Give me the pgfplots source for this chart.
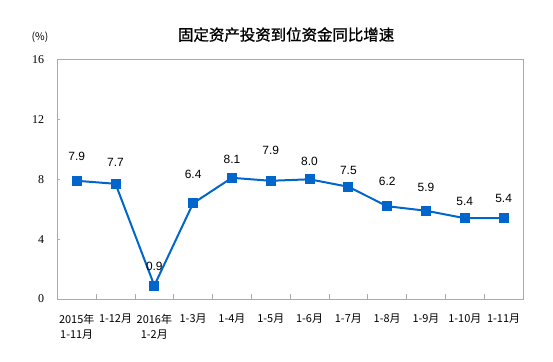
\documentclass[border=0pt]{standalone}
\usepackage{pgfplots}
\pgfplotsset{compat=1.18}
\usepackage{pgfplotstable}
\usepackage{fontspec}
\setmainfont{Liberation Sans}
\newfontfamily\cjk{Noto Sans CJK SC}
\newfontfamily\cjkb[FakeBold=1.2]{Noto Sans CJK SC}
\newfontfamily\serif{Liberation Serif}
\definecolor{lineblue}{RGB}{0,102,204}
\definecolor{framegray}{RGB}{170,170,170}

\pgfplotstableread{
x y off
0 7.9 24.8
1 7.7 21
2 0.9 19.5
3 6.4 28.6
4 8.1 18.5
5 7.9 30.8
6 8.0 18.3
7 7.5 16.8
8 6.2 24.5
9 5.9 23.4
10 5.4 16.5
11 5.4 19.5
}\datatable

\begin{document}
\begin{tikzpicture}
\path[use as bounding box] (-57.3bp,-63bp) rectangle (495.7bp,299bp);
\begin{axis}[
  scale only axis, width=465.7bp, height=239.4bp,
  xmin=-0.5, xmax=11.5, ymin=0, ymax=16,
  ytick={0,4,8,12,16},
  xtick={0,...,11},
  xticklabels={{2015年\\1-11月},1-12月,{2016年\\1-2月},1-3月,1-4月,1-5月,1-6月,1-7月,1-8月,1-9月,1-10月,1-11月},
  minor xtick={0.5,1.5,...,10.5},
  major tick length=3bp,
  minor tick length=5bp,
  tick align=inside,
  xtick pos=bottom, ytick pos=left,
  tick style={framegray, line width=0.8bp},
  major x tick style={draw=none},
  axis line style={framegray, line width=0.8bp},
  clip=false,
  /pgf/number format/assume math mode=true,
  yticklabel style={font=\serif\fontsize{12}{14}\selectfont, anchor=east, inner sep=0pt, xshift=-13bp, text=black},
  xticklabel style={font=\cjk\fontsize{11}{15}\selectfont, align=center, anchor=north, inner sep=0pt, yshift=-15bp, text=black},
  point meta=y,
  nodes near coords={\pgfmathprintnumber[fixed,precision=1,fixed zerofill]{\pgfplotspointmeta}},
  visualization depends on={\thisrow{off} \as \myoff},
  every node near coord/.append style={font=\fontsize{12}{14}\selectfont, anchor=center, yshift=\myoff bp, text=black, inner sep=0pt},
]
\addplot[color=lineblue, line width=2bp, mark=square*, mark size=4bp, mark options={solid, fill=lineblue}] table[x=x, y=y] {\datatable};
\node[font=\cjkb\fontsize{15.5}{18}\selectfont, anchor=center] at ([xshift=-4bp, yshift=25bp]axis description cs:0.5,1) {固定资产投资到位资金同比增速};
\node[font=\cjk\fontsize{10.5}{12}\selectfont, anchor=center] at ([xshift=-17.3bp, yshift=22bp]axis description cs:0,1) {(\%)};
\end{axis}
\end{tikzpicture}
\end{document}
